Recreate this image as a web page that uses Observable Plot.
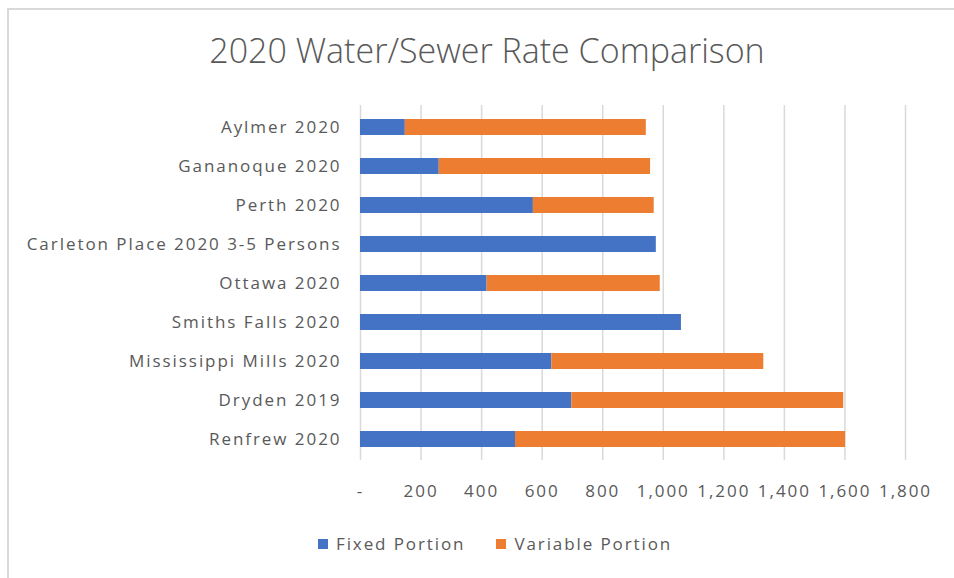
<!DOCTYPE html>
<html>
<head>
<meta charset="utf-8">
<script src="https://cdn.jsdelivr.net/npm/d3@7"></script>
<script src="https://cdn.jsdelivr.net/npm/@observablehq/plot@0.6"></script>
<style>
  html, body { margin: 0; padding: 0; background: #fff; }
  #wrap { position: relative; width: 954px; height: 578px; overflow: hidden; font-family: "Open Sans", sans-serif; color: #595959; }
  #frame { position: absolute; left: 7px; top: 8px; width: 960px; height: 600px; border-left: 2px solid #d9d9d9; border-top: 2px solid #d9d9d9; }
  #title { position: absolute; left: 10px; width: 954px; top: 33px; line-height: 34px; text-align: center; font-size: 34px; font-weight: 300; }
  #chart { position: absolute; left: 0; top: 90px; }
  #legend { position: absolute; left: 318px; top: 532px; display: flex; gap: 31px; font-size: 17px; letter-spacing: 1.9px; }
  .item { display: flex; align-items: center; gap: 8px; }
  .sw { width: 10px; height: 10px; display: inline-block; }
</style>
</head>
<body>
<div id="wrap">
  <div id="frame"></div>
  <div id="title">2020 Water/Sewer Rate Comparison</div>
  <div id="chart"></div>
  <div id="legend"></div>
</div>
<script>
const categories = ["Aylmer 2020", "Gananoque 2020", "Perth 2020", "Carleton Place 2020 3-5 Persons", "Ottawa 2020", "Smiths Falls 2020", "Mississippi Mills 2020", "Dryden 2019", "Renfrew 2020"];
const fixedPortion = [148, 260, 571, 977, 418, 1060, 632, 698, 512];
const variablePortion = [796, 698, 399, 0, 572, 0, 700, 898, 1090];
const seriesNames = ["Fixed Portion", "Variable Portion"];
const seriesColors = ["#4472C4", "#ED7D31"];
const xTicks = [0, 200, 400, 600, 800, 1000, 1200, 1400, 1600, 1800];

const rows = [];
categories.forEach((c, i) => {
  rows.push({category: c, series: seriesNames[0], value: fixedPortion[i]});
  rows.push({category: c, series: seriesNames[1], value: variablePortion[i]});
});

const fmt = d3.format(",");
const chart = Plot.plot({
  width: 954,
  height: 420,
  marginLeft: 360,
  marginRight: 49,
  marginTop: 15,
  marginBottom: 50,
  style: {fontFamily: "'Open Sans', sans-serif", fontSize: "17px", color: "#595959", background: "transparent", letterSpacing: "1.95px"},
  x: {domain: [0, 1800], ticks: xTicks, tickFormat: d => d === 0 ? "-" : fmt(d), tickSize: 0, tickPadding: 24, label: null},
  y: {domain: categories, paddingInner: 0.6, paddingOuter: 0.3, tickSize: 0, tickPadding: 19, label: null},
  color: {domain: seriesNames, range: seriesColors},
  marks: [
    Plot.ruleX(xTicks, {stroke: "#d9d9d9", strokeWidth: 1.5}),
    Plot.barX(rows, Plot.stackX({x: "value", y: "category", fill: "series", order: seriesNames})),
  ]
});
document.getElementById("chart").appendChild(chart);

const legend = document.getElementById("legend");
seriesNames.forEach((s, i) => {
  const it = document.createElement("div");
  it.className = "item";
  const sw = document.createElement("span");
  sw.className = "sw";
  sw.style.background = seriesColors[i];
  it.appendChild(sw);
  it.appendChild(document.createTextNode(s));
  legend.appendChild(it);
});
</script>
</body>
</html>
